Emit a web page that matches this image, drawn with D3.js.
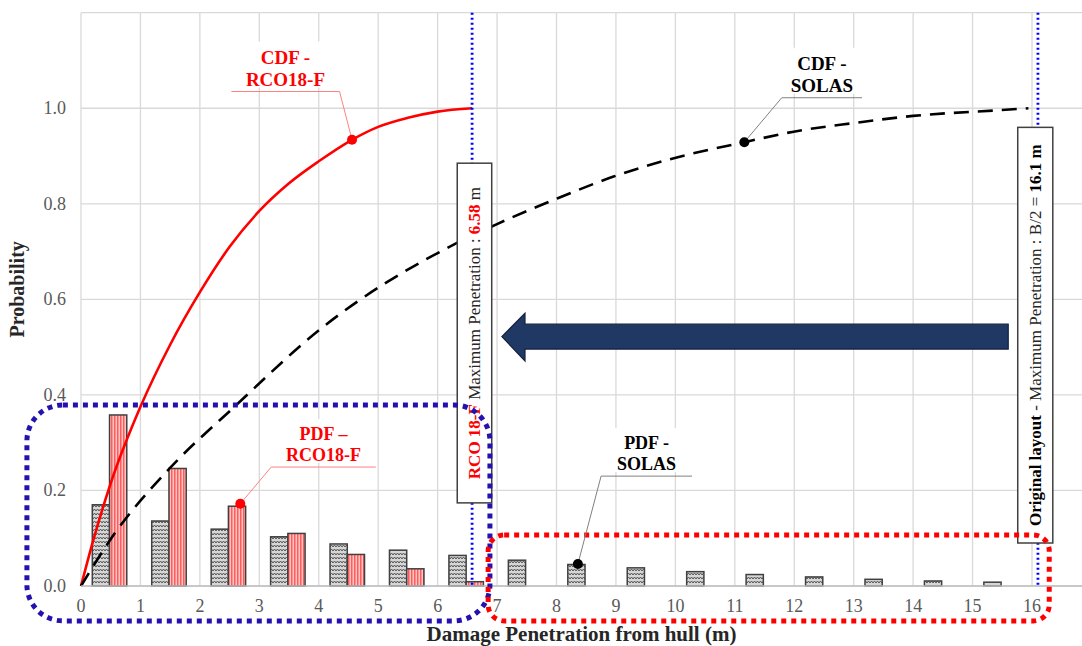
<!DOCTYPE html>
<html>
<head>
<meta charset="utf-8">
<script src="https://cdn.jsdelivr.net/npm/d3@7"></script>
<style>
  body { margin: 0; background: #fff; }
  svg { display: block; font-family: "Liberation Serif", "Times New Roman", serif; }
</style>
</head>
<body>
<svg id="chart" width="1082" height="646"></svg>
<script>
// bins (m) and PDF values
var bins = [0, 1, 2, 3, 4, 5, 6, 7, 8, 9, 10, 11, 12, 13, 14, 15];
var solasPdf = [0.170, 0.136, 0.119, 0.103, 0.088, 0.075, 0.064, 0.054, 0.045, 0.038, 0.030, 0.024, 0.019, 0.014, 0.0105, 0.008];
var rcoPdf = [0.358, 0.246, 0.167, 0.110, 0.066, 0.036, 0.009];

// CDF curves
var rcoCdfX = [0, 0.2, 0.5, 1.0, 1.5, 2.0, 2.5, 3.0, 3.5, 4.0, 4.56, 5.0, 5.5, 6.0, 6.58];
var rcoCdfY = [0, 0.093, 0.215, 0.375, 0.505, 0.615, 0.71, 0.785, 0.843, 0.889, 0.934, 0.961, 0.980, 0.993, 1.0];
var solasCdfX = [0, 0.51, 1.49, 2.58, 4.04, 6.31, 6.99, 7.95, 8.96, 9.96, 11.16, 11.99, 13.0, 14.0, 15.47, 15.94];
var solasCdfY = [0, 0.10, 0.246, 0.375, 0.539, 0.717, 0.757, 0.808, 0.857, 0.895, 0.929, 0.951, 0.969, 0.984, 0.996, 1.0];

var xTicks = d3.range(0, 17);
var yTicks = [0, 0.2, 0.4, 0.6, 0.8, 1.0];
var maxPenRco = 6.58;
var maxPenSolas = 16.1;

var svg = d3.select('#chart');
var width = 1082, height = 646;

var x = d3.scaleLinear().domain([0, 16]).range([81, 1032]);
var y = d3.scaleLinear().domain([0, 1.2]).range([586, 12.7]);
var right = width;

// patterns
var defs = svg.append('defs');
var zig = defs.append('pattern').attr('id', 'zig')
    .attr('patternUnits', 'userSpaceOnUse').attr('width', 6).attr('height', 4);
zig.append('rect').attr('width', 6).attr('height', 4).attr('fill', '#d6d6d6');
zig.append('path').attr('d', 'M0,3 L1.5,1 L3,3 L4.5,1 L6,3')
    .attr('fill', 'none').attr('stroke', '#555').attr('stroke-width', 1);
var stripe = defs.append('pattern').attr('id', 'stripe')
    .attr('patternUnits', 'userSpaceOnUse').attr('width', 3).attr('height', 4);
stripe.append('rect').attr('width', 3).attr('height', 4).attr('fill', '#ffc4c4');
stripe.append('rect').attr('width', 1.5).attr('height', 4).attr('fill', '#ff5c5c');

// gridlines
svg.append('g').selectAll('line').data(xTicks).enter().append('line')
    .attr('x1', d => x(d)).attr('x2', d => x(d))
    .attr('y1', y(0)).attr('y2', y(1.2))
    .attr('stroke', '#d9d9d9').attr('stroke-width', 1.3);
svg.append('g').selectAll('line').data(yTicks.concat([1.2])).enter().append('line')
    .attr('x1', x(0)).attr('x2', right)
    .attr('y1', d => y(d)).attr('y2', d => y(d))
    .attr('stroke', '#d9d9d9').attr('stroke-width', 1.3);

// tick labels
svg.append('g').selectAll('text').data(yTicks).enter().append('text')
    .attr('x', 66).attr('y', d => y(d) + 6)
    .attr('text-anchor', 'end').attr('font-size', 18).attr('fill', '#595959')
    .text(d => d.toFixed(1));
svg.append('g').selectAll('text').data(xTicks).enter().append('text')
    .attr('x', d => x(d)).attr('y', 612)
    .attr('text-anchor', 'middle').attr('font-size', 18).attr('fill', '#595959')
    .text(d => d);

// axis titles
svg.append('text')
    .attr('transform', 'translate(24,' + ((y(0) + y(1.2)) / 2 - 10) + ') rotate(-90)')
    .attr('text-anchor', 'middle').attr('font-size', 20).attr('font-weight', 'bold')
    .attr('fill', '#262626').text('Probability');
svg.append('text')
    .attr('x', (x(0) + right) / 2).attr('y', 641)
    .attr('text-anchor', 'middle').attr('font-size', 21).attr('font-weight', 'bold')
    .attr('fill', '#262626').text('Damage Penetration from hull (m)');

// bars
var bw = 0.29;
svg.append('g').selectAll('rect').data(solasPdf).enter().append('rect')
    .attr('x', (d, i) => x(bins[i] + 0.19)).attr('width', x(bw) - x(0))
    .attr('y', d => y(d)).attr('height', d => y(0) - y(d))
    .attr('fill', 'url(#zig)').attr('stroke', '#404040').attr('stroke-width', 1.5);
svg.append('g').selectAll('rect').data(rcoPdf).enter().append('rect')
    .attr('x', (d, i) => x(bins[i] + 0.48)).attr('width', x(bw) - x(0))
    .attr('y', d => y(d)).attr('height', d => y(0) - y(d))
    .attr('fill', 'url(#stripe)').attr('stroke', '#404040').attr('stroke-width', 1.5);

// CDF lines
var line = d3.line().x(d => x(d[0])).y(d => y(d[1])).curve(d3.curveMonotoneX);
svg.append('path').datum(d3.zip(rcoCdfX, rcoCdfY))
    .attr('d', line).attr('fill', 'none').attr('stroke', '#ff0000').attr('stroke-width', 2.6);
svg.append('path').datum(d3.zip(solasCdfX, solasCdfY))
    .attr('d', line).attr('fill', 'none').attr('stroke', '#000').attr('stroke-width', 2.6)
    .attr('stroke-dasharray', '15,9');

// axis base line
svg.append('line').attr('x1', x(0)).attr('x2', right).attr('y1', y(0)).attr('y2', y(0))
    .attr('stroke', '#bfbfbf').attr('stroke-width', 1.5);

// max penetration lines
[maxPenRco, maxPenSolas].forEach(function(v){
    svg.append('line').attr('x1', x(v)).attr('x2', x(v)).attr('y1', y(1.2)).attr('y2', y(0))
        .attr('stroke', '#0000ff').attr('stroke-width', 2.8).attr('stroke-dasharray', '2,3');
});

// boxes with vertical text
function vbox(x0, x1, y0, y1, parts){
    svg.append('rect').attr('x', x(x0)).attr('y', y(y1))
        .attr('width', x(x1) - x(x0)).attr('height', y(y0) - y(y1))
        .attr('fill', '#fff').attr('stroke', '#404040').attr('stroke-width', 1.5);
    var cx = (x(x0) + x(x1)) / 2, cy = (y(y0) + y(y1)) / 2;
    var t = svg.append('text')
        .attr('transform', 'translate(' + (cx + 6) + ',' + cy + ') rotate(-90)')
        .attr('text-anchor', 'middle').attr('font-size', 17);
    parts.forEach(function(p){
        t.append('tspan').attr('fill', p.c || '#262626')
            .attr('font-weight', p.b ? 'bold' : 'normal').text(p.t);
    });
}
vbox(6.33, 6.91, 0.174, 0.885, [
    {t: 'RCO 18-F', c: '#ff0000', b: true},
    {t: ' Maximum Penetration : '},
    {t: '6.58', c: '#ff0000', b: true},
    {t: ' m'}
]);
vbox(15.76, 16.35, 0.090, 0.960, [
    {t: 'Original layout', b: true, c: '#000'},
    {t: ' - Maximum Penetration : B/2 = '},
    {t: '16.1 m', b: true, c: '#000'}
]);

// arrow
var arrowPts = [[7.08, 0.522], [7.47, 0.571], [7.47, 0.548], [15.6, 0.548],
                [15.6, 0.496], [7.47, 0.496], [7.47, 0.471]];
svg.append('polygon')
    .attr('points', arrowPts.map(p => x(p[0]) + ',' + y(p[1])).join(' '))
    .attr('fill', '#1f3864').attr('stroke', '#14213d').attr('stroke-width', 1.2);

// dotted rounded frames
svg.append('rect').attr('x', x(-0.91)).attr('y', y(0.379))
    .attr('width', x(6.88) - x(-0.91)).attr('height', y(-0.073) - y(0.379))
    .attr('rx', 36).attr('fill', 'none').attr('stroke', '#2412b0')
    .attr('stroke-width', 5).attr('stroke-dasharray', '5,5');
svg.append('rect').attr('x', x(6.85)).attr('y', y(0.107))
    .attr('width', x(16.29) - x(6.85)).attr('height', y(-0.073) - y(0.107))
    .attr('rx', 16).attr('fill', 'none').attr('stroke', '#ff0000')
    .attr('stroke-width', 5).attr('stroke-dasharray', '5,5');

// callouts
function callout(px, py, kx, ky, kx2, lines, color, lineColor, fs){
    var g = svg.append('g');
    var lh = fs + 3;
    var tx = (x(kx) + x(kx2)) / 2;
    var ty = y(ky);
    g.append('rect').attr('x', tx - 50).attr('y', ty - 2 * lh - 6)
        .attr('width', 100).attr('height', 2 * lh + 2).attr('fill', '#fff');
    lines.forEach(function(l, i){
        g.append('text').attr('x', tx).attr('y', ty - 6 - (lines.length - 1 - i) * lh)
            .attr('text-anchor', 'middle').attr('font-size', fs).attr('font-weight', 'bold')
            .attr('fill', color).text(l);
    });
    g.append('polyline')
        .attr('points', [x(px), y(py), x(kx), ty, x(kx2), ty].join(' '))
        .attr('fill', 'none').attr('stroke', lineColor).attr('stroke-width', 1);
    g.append('circle').attr('cx', x(px)).attr('cy', y(py)).attr('r', 5).attr('fill', color);
}
callout(4.56, 0.934, 4.35, 1.035, 2.53, ['CDF -', 'RCO18-F'], '#ff0000', '#ff8080', 19);
callout(11.16, 0.929, 11.79, 1.022, 13.14, ['CDF -', 'SOLAS'], '#000', '#808080', 19);
callout(2.68, 0.172, 3.2, 0.249, 4.96, ['PDF \u2013', 'RCO18-F'], '#ff0000', '#ff8080', 18);
callout(8.36, 0.046, 8.75, 0.23, 10.28, ['PDF -', 'SOLAS'], '#000', '#808080', 18);
</script>
</body>
</html>
